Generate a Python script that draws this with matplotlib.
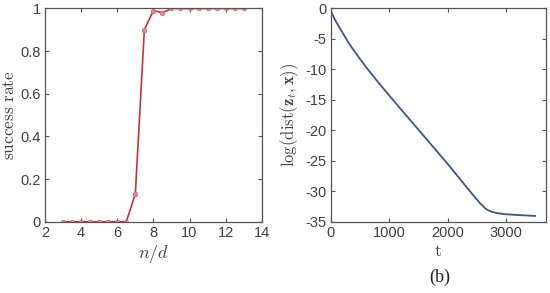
import numpy as np
import matplotlib
matplotlib.use('Agg')
import matplotlib.pyplot as plt

plt.rcParams['font.family'] = ['Liberation Sans', 'DejaVu Sans']
plt.rcParams['mathtext.fontset'] = 'cm'

# left panel: success rate vs n/d
ratio = [3, 3.5, 4, 4.5, 5, 5.5, 6, 6.5, 7, 7.5, 8, 8.5, 9, 9.5, 10, 10.5, 11, 11.5, 12, 12.5, 13]
success = [0, 0, 0, 0, 0, 0, 0, 0, 0.13, 0.90, 0.99, 0.98, 1, 1, 1, 1, 1, 1, 1, 1, 1]

# right panel: log distance vs iteration
iters = [0, 50, 100, 200, 300, 400, 500, 600, 800, 1000, 1500, 2000, 2400, 2550, 2650, 2700,
         2750, 2850, 3000, 3200, 3500]
logdist = [-0.5, -1.5, -2.4, -4.0, -5.6, -7.0, -8.3, -9.6, -12.0, -14.3, -19.9, -25.5, -30.2,
           -31.9, -32.85, -33.15, -33.35, -33.6, -33.78, -33.9, -34.05]

txt = '#404040'
box = '#555555'

fig = plt.figure(figsize=(5.5, 2.93), dpi=100)
ax1 = fig.add_axes([0.0818, 0.2433, 0.3942, 0.7277])
ax2 = fig.add_axes([0.6018, 0.2433, 0.3902, 0.7277])

ax1.plot(ratio, success, color='#c8323c', lw=1.2, marker='o', ms=3.2,
         mfc='#e08a8f', mec='#d86a70', mew=0.6)
ax1.set_xlim(2, 14)
ax1.set_ylim(0, 1)
ax1.set_xticks([2, 4, 6, 8, 10, 12, 14])
ax1.set_yticks([0, 0.2, 0.4, 0.6, 0.8, 1])
ax1.set_yticklabels(['0', '0.2', '0.4', '0.6', '0.8', '1'])
ax1.set_xlabel(r'$n/d$', fontsize=13, color=txt, labelpad=2)
ax1.set_ylabel(r'$\mathrm{success\ rate}$', fontsize=12.5, color=txt, labelpad=2.5)

ax2.plot(iters, logdist, color='#3d5687', lw=1.3)
ax2.set_xlim(0, 3680)
ax2.set_ylim(-35, 0)
ax2.set_xticks([0, 1000, 2000, 3000])
ax2.set_yticks([-35, -30, -25, -20, -15, -10, -5, 0])
ax2.set_yticklabels(['-35', '-30', '-25', '-20', '-15', '-10', '-5', '0'])
ax2.set_xlabel(r'$\mathrm{t}$', fontsize=13, color=txt, labelpad=2)
ax2.set_ylabel(r'$\log(\mathrm{dist}(\mathbf{z}_t,\mathbf{x}))$', fontsize=12, color=txt, labelpad=3)

for ax in (ax1, ax2):
    ax.tick_params(direction='in', top=True, right=True, length=3, width=0.8,
                   color=box, labelcolor=txt, labelsize=10.5, pad=3)
    for s in ax.spines.values():
        s.set_color(box)
        s.set_linewidth(0.9)

fig.text(0.8, 0.055, '(b)', ha='center', va='center', fontsize=13,
         family='Liberation Serif', color='#222222')

fig.savefig('out.png', dpi=100)
